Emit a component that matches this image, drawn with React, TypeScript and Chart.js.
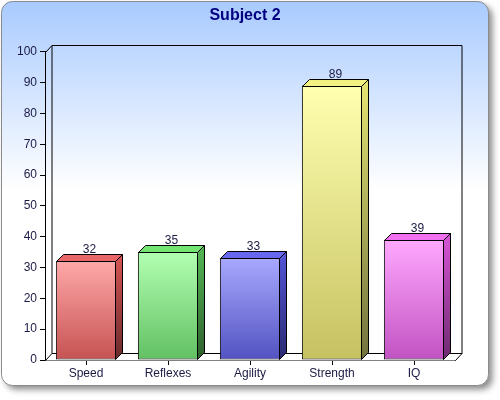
import React, { useEffect, useRef } from 'react';
import { Chart, registerables } from 'chart.js';

Chart.register(...registerables);

const titleText = 'Subject 2';
const categories = ['Speed', 'Reflexes', 'Agility', 'Strength', 'IQ'];
const values = [32, 35, 33, 89, 39];
const yMin = 0;
const yMax = 100;
const yStep = 10;

const frontTop = ['#ffa8a8', '#b2ffb2', '#a8a8ff', '#ffffb0', '#ffa8ff'];
const frontBottom = ['#c65252', '#62c062', '#5252c2', '#c6c262', '#c252c2'];
const topFace = ['#e86666', '#72e472', '#6868ee', '#f2f282', '#f070f0'];
const sideTop = ['#d05252', '#52b252', '#5252d2', '#e2e272', '#d252d2'];
const sideBottom = ['#6a2a2a', '#2e602e', '#2a2a72', '#72723e', '#6e2a6e'];

const DX = 7;
const DY = -7;
const WALL_DX = 6.5;
const textColor = '#1a1a44';
const fontFamily = '"Liberation Sans", Arial, sans-serif';

const decorPlugin = {
  id: 'decor',
  beforeDraw(chart: any) {
    const ctx = chart.ctx;
    ctx.save();
    ctx.clearRect(0, 0, chart.width, chart.height);
    ctx.save();
    ctx.shadowColor = 'rgba(0,0,0,0.45)';
    ctx.shadowBlur = 6;
    ctx.shadowOffsetX = 4;
    ctx.shadowOffsetY = 4;
    const g = ctx.createLinearGradient(0, 0, 0, 190);
    g.addColorStop(0, '#a8caff');
    g.addColorStop(1, '#ffffff');
    ctx.beginPath();
    ctx.roundRect(1.5, 1.5, 487, 384, 11);
    ctx.fillStyle = g;
    ctx.fill();
    ctx.restore();
    ctx.beginPath();
    ctx.roundRect(1.5, 1.5, 487, 384, 11);
    ctx.strokeStyle = '#8a8a8a';
    ctx.lineWidth = 1;
    ctx.stroke();
    ctx.font = 'bold 16px ' + fontFamily;
    ctx.fillStyle = '#000080';
    ctx.textAlign = 'center';
    ctx.textBaseline = 'middle';
    ctx.fillText(titleText, 245, 16);
    ctx.restore();
  },
  beforeDatasetsDraw(chart: any) {
    const ctx = chart.ctx;
    const a = chart.chartArea;
    const l = Math.round(a.left) + 0.5;
    const r = Math.round(a.right) + 0.5;
    const t = Math.round(a.top) + 0.5;
    const b = Math.round(a.bottom) + 0.5;
    ctx.save();
    ctx.beginPath();
    ctx.moveTo(l, b);
    ctx.lineTo(r, b);
    ctx.lineTo(r + WALL_DX, b + DY);
    ctx.lineTo(l + WALL_DX, b + DY);
    ctx.closePath();
    ctx.fillStyle = '#ffffff';
    ctx.fill();
    ctx.strokeStyle = '#000';
    ctx.lineWidth = 1;
    ctx.beginPath();
    ctx.moveTo(l + WALL_DX, b + DY);
    ctx.lineTo(l + WALL_DX, t + DY);
    ctx.lineTo(r + WALL_DX, t + DY);
    ctx.lineTo(r + WALL_DX, b + DY);
    ctx.lineTo(l + WALL_DX, b + DY);
    ctx.moveTo(l, t);
    ctx.lineTo(l + WALL_DX, t + DY);
    ctx.moveTo(l, b);
    ctx.lineTo(l + WALL_DX, b + DY);
    ctx.moveTo(r, b);
    ctx.lineTo(r + WALL_DX, b + DY);
    ctx.stroke();
    ctx.restore();
  },
  afterDatasetsDraw(chart: any) {
    const ctx = chart.ctx;
    const meta = chart.getDatasetMeta(0);
    ctx.save();
    ctx.lineWidth = 1;
    ctx.strokeStyle = '#000';
    meta.data.forEach((bar: any, i: number) => {
      const props = bar.getProps(['x', 'y', 'width', 'base'], true);
      if (![props.x, props.y, props.width, props.base].every((v: number) => Number.isFinite(v))) return;
      const L = Math.round(props.x - props.width / 2) + 0.5;
      const R = Math.round(props.x + props.width / 2) - 0.5;
      const T = Math.round(props.y) + 0.5;
      const B = Math.round(props.base) - 0.5;
      ctx.beginPath();
      ctx.moveTo(L, T);
      ctx.lineTo(L + DX, T + DY);
      ctx.lineTo(R + DX, T + DY);
      ctx.lineTo(R, T);
      ctx.closePath();
      ctx.fillStyle = topFace[i];
      ctx.fill();
      ctx.stroke();
      const sg = ctx.createLinearGradient(0, T, 0, B);
      sg.addColorStop(0, sideTop[i]);
      sg.addColorStop(1, sideBottom[i]);
      ctx.beginPath();
      ctx.moveTo(R, T);
      ctx.lineTo(R + DX, T + DY);
      ctx.lineTo(R + DX, B + DY);
      ctx.lineTo(R, B);
      ctx.closePath();
      ctx.fillStyle = sg;
      ctx.fill();
      ctx.stroke();
      ctx.font = '12px ' + fontFamily;
      ctx.fillStyle = textColor;
      ctx.textAlign = 'center';
      ctx.textBaseline = 'alphabetic';
      ctx.fillText(String(values[i]), (L + R) / 2 + DX / 2, T + DY - 2);
    });
    ctx.restore();
  },
};

export default function App() {
  const canvasRef = useRef<HTMLCanvasElement | null>(null);

  useEffect(() => {
    const canvas = canvasRef.current;
    if (!canvas) return;
    const chart = new Chart(canvas, {
      type: 'bar',
      data: {
        labels: categories,
        datasets: [
          {
            data: values,
            backgroundColor: (c: any) => {
              const ch = c.chart;
              const ys = ch.scales && ch.scales.y;
              const idx = c.dataIndex;
              if (!ys || idx === undefined) return frontTop[0];
              const top = ys.getPixelForValue(values[idx]);
              const bottom = ys.getPixelForValue(yMin);
              if (!Number.isFinite(top) || !Number.isFinite(bottom) || top === bottom) return frontTop[idx];
              const g = ch.ctx.createLinearGradient(0, top, 0, bottom);
              g.addColorStop(0, frontTop[idx]);
              g.addColorStop(1, frontBottom[idx]);
              return g;
            },
            borderColor: '#000000',
            borderWidth: 1,
            borderSkipped: false,
            barPercentage: 0.735,
            categoryPercentage: 1,
          },
        ],
      },
      options: {
        responsive: false,
        animation: false,
        layout: { padding: { top: 51.7, right: 45, left: 0, bottom: 0 } },
        plugins: {
          legend: { display: false },
          title: { display: false },
          tooltip: { enabled: false },
        },
        scales: {
          x: {
            offset: true,
            grid: { offset: false, drawOnChartArea: false, drawTicks: true, tickLength: 5, color: '#000' },
            border: { display: true, color: '#000', width: 1 },
            ticks: { color: textColor, font: { family: fontFamily, size: 12 }, padding: 1, maxRotation: 0 },
            afterFit(s: any) {
              s.height = 40;
            },
          },
          y: {
            min: yMin,
            max: yMax,
            grid: { drawOnChartArea: false, drawTicks: true, tickLength: 5, color: '#000' },
            border: { display: true, color: '#000', width: 1 },
            ticks: { stepSize: yStep, color: textColor, font: { family: fontFamily, size: 12 }, padding: 3 },
            afterFit(s: any) {
              s.width = 45;
            },
          },
        },
      },
      plugins: [decorPlugin],
    });
    return () => chart.destroy();
  }, []);

  return (
    <div style={{ position: 'fixed', left: 0, top: 0, width: 500, height: 400, background: '#ffffff' }}>
      <canvas ref={canvasRef} width={500} height={400} style={{ width: 500, height: 400, display: 'block' }} />
    </div>
  );
}
